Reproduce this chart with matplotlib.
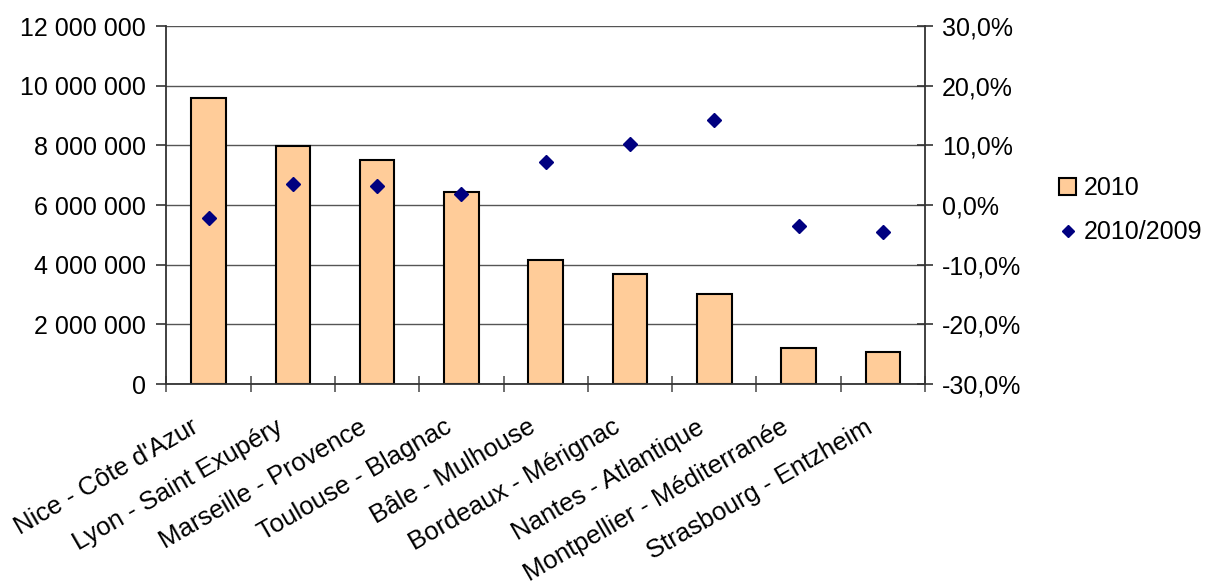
import matplotlib
matplotlib.use("Agg")
import matplotlib.pyplot as plt
from matplotlib.ticker import FuncFormatter
from matplotlib.patches import Patch
from matplotlib.lines import Line2D
from matplotlib.transforms import ScaledTranslation

plt.rcParams['font.family'] = ['Liberation Sans', 'DejaVu Sans']

airports = ["Nice - Côte d'Azur", "Lyon - Saint Exupéry", "Marseille - Provence",
            "Toulouse - Blagnac", "Bâle - Mulhouse", "Bordeaux - Mérignac",
            "Nantes - Atlantique", "Montpellier - Méditerranée", "Strasbourg - Entzheim"]
pax_2010 = [9600000, 7980000, 7510000, 6450000, 4160000, 3700000, 3030000, 1210000, 1080000]
evol_2010_2009 = [-2.2, 3.5, 3.2, 1.9, 7.2, 10.2, 14.2, -3.5, -4.5]

fig = plt.figure(figsize=(12.06, 5.81), dpi=100)
ax = fig.add_axes([0.138, 0.339, 0.629, 0.616])
ax2 = ax.twinx()

x = list(range(len(airports)))
ax.bar(x, pax_2010, width=0.41, color="#FFCC99", edgecolor="black", linewidth=1.5, zorder=2)
ax2.plot(x, evol_2010_2009, linestyle="none", marker="D", markersize=7,
         color="#000080", zorder=3)

ax.set_xlim(-0.5, len(airports) - 0.5)
ax.set_ylim(0, 12000000)
ax.set_yticks(range(0, 12000001, 2000000))
ax.yaxis.set_major_formatter(FuncFormatter(lambda v, p: f"{int(v):,}".replace(",", " ")))
ax2.set_ylim(-30, 30)
ax2.set_yticks(range(-30, 31, 10))
ax2.yaxis.set_major_formatter(FuncFormatter(lambda v, p: f"{v:.1f}%".replace(".", ",")))

ax.yaxis.grid(True, color="#555555", linewidth=1, zorder=0)
ax.set_axisbelow(True)

for a in (ax, ax2):
    a.spines['top'].set_visible(False)
    for s in a.spines.values():
        s.set_color("#333333")
        s.set_linewidth(1.3)
ax.spines['right'].set_visible(False)
ax2.spines['left'].set_visible(False)
ax2.spines['bottom'].set_visible(False)

# category boundaries as ticks, names as rotated text
ax.set_xticks([i - 0.5 for i in range(len(airports) + 1)])
ax.set_xticklabels([])
lab_tr = ax.get_xaxis_transform() + ScaledTranslation(-0.18, -0.31, fig.dpi_scale_trans)
for i, name in zip(x, airports):
    ax.text(i, 0, name, transform=lab_tr, rotation=30, ha="right", va="top",
            rotation_mode="anchor", fontsize=18.5)
ax.tick_params(axis="x", direction="inout", length=12, color="#555555", width=1.2)
ax.tick_params(axis="y", direction="out", length=7, color="#333333", width=1.2,
               labelsize=18, pad=8)
ax2.tick_params(axis="y", direction="inout", length=12, color="#333333", width=1.2,
                labelsize=18, pad=6)

handles = [Patch(facecolor="#FFCC99", edgecolor="black", linewidth=1.5, label="2010"),
           Line2D([], [], linestyle="none", marker="D", markersize=6, color="#000080",
                  label="2010/2009")]
fig.legend(handles=handles, loc="center left", bbox_to_anchor=(0.878, 0.638),
           frameon=False, fontsize=18, handlelength=0.7, handleheight=0.7,
           handletextpad=0.3, labelspacing=0.8, borderaxespad=0, borderpad=0)

fig.savefig("out.png", dpi=100)
